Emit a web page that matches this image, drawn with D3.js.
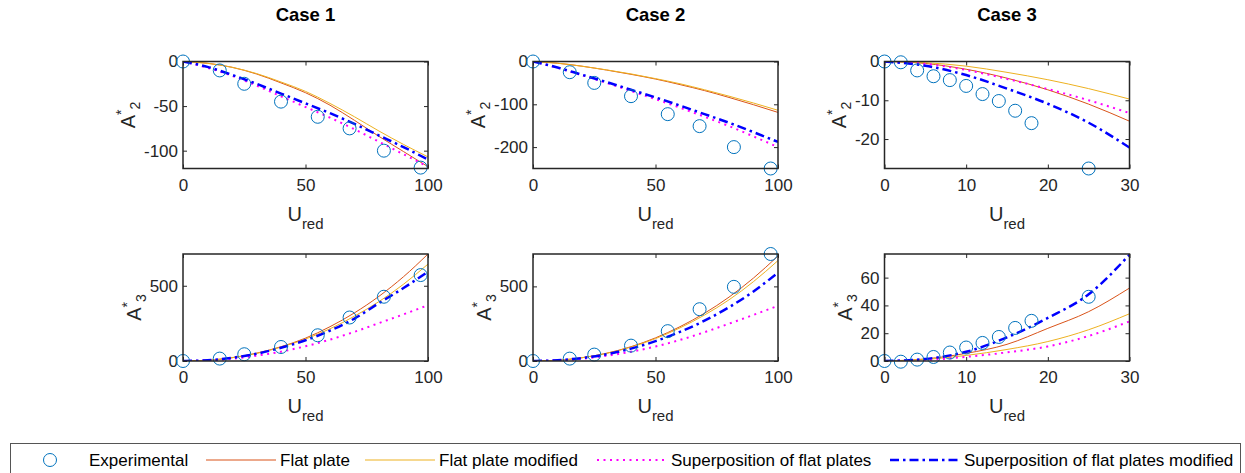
<!DOCTYPE html>
<html lang="en">
<head>
<meta charset="UTF-8">
<title>A2 / A3 vs Ured</title>
<script src="https://d3js.org/d3.v7.min.js"></script>
<style>
  body { margin: 0; background: #fff; }
  svg { display: block; font-family: "Liberation Sans", Arial, sans-serif; }
  .axis text { font-size: 17px; fill: #262626; }
  .axis line { stroke: #262626; stroke-width: 1; }
  .axis path { display: none; }
</style>
</head>
<body>
<div id="chart-container"></div>
<script>
// reduced velocity samples
const uExp = [0, 15, 25, 40, 55, 68, 82, 97];
const uExpCase3 = [0, 2, 4, 6, 8, 10, 12, 14, 16, 18, 25];
const uModel = [0, 10, 20, 30, 40, 50, 60, 70, 80, 90, 100];
const uModelCase3 = [0, 5, 10, 15, 20, 25, 30];

// A2* (top row)
const a2Exp1 = [0, -10, -25, -45, -62, -75, -100, -119];
const a2Flat1 = [0, -2, -6.5, -14, -24, -35, -49, -66, -84, -101, -118];
const a2FlatMod1 = [0, -2, -6.5, -13.5, -23, -33.5, -47, -62, -78, -93, -107];
const a2Sup1 = [0, -7, -16, -27, -39, -51, -63, -76, -90, -104, -118];
const a2SupMod1 = [0, -6, -15, -25, -36, -47, -58, -70, -83, -96, -110];

const a2Exp2 = [0, -25, -50, -81, -123, -151, -200, -250];
const a2Flat2 = [0, -4, -11, -20, -30, -41, -54, -68, -84, -101, -119];
const a2FlatMod2 = [0, -4, -11, -19.5, -29, -40, -52, -66, -81, -97, -114];
const a2Sup2 = [0, -15, -32, -50, -69, -88, -108, -129, -151, -175, -200];
const a2SupMod2 = [0, -14, -31, -48, -66, -84, -103, -123, -143, -165, -188];

const a2Exp3 = [0, -0.2, -2.3, -3.8, -4.8, -6.3, -8.4, -10.2, -12.7, -15.9, -27.6];
const a2Flat3 = [0, -0.5, -2, -4.3, -7.3, -11, -15.4];
const a2FlatMod3 = [0, -0.3, -1.2, -2.8, -4.7, -7, -9.7];
const a2Sup3 = [0, -0.6, -2.2, -4.5, -7.1, -10, -13.3];
const a2SupMod3 = [0, -1.1, -3.5, -7, -10.9, -15.8, -22.2];

// A3* (bottom row)
const a3Exp1 = [0, 16, 45, 93, 171, 289, 427, 571];
const a3Flat1 = [0, 5, 22, 52, 95, 152, 228, 320, 430, 560, 711];
const a3FlatMod1 = [0, 5, 22, 50, 92, 146, 214, 298, 395, 510, 644];
const a3Sup1 = [0, 4, 15, 35, 62, 98, 142, 194, 252, 310, 371];
const a3SupMod1 = [0, 5, 21, 48, 88, 138, 202, 282, 385, 485, 593];

const a3Exp2 = [0, 16, 43, 103, 200, 347, 497, 717];
const a3Flat2 = [0, 5, 22, 52, 96, 155, 230, 320, 428, 556, 704];
const a3FlatMod2 = [0, 5, 22, 51, 93, 150, 222, 308, 410, 532, 673];
const a3Sup2 = [0, 4, 15, 35, 62, 97, 141, 193, 250, 309, 370];
const a3SupMod2 = [0, 5, 20, 45, 83, 133, 195, 270, 360, 466, 592];

const a3Exp3 = [0, -0.5, 1.0, 2.9, 6.1, 9.7, 13.0, 17.3, 23.8, 28.9, 46.2];
const a3Flat3 = [0, 1.5, 5.5, 12, 23.5, 35.5, 52.5];
const a3FlatMod3 = [0, 1.1, 4, 8.3, 14, 22.5, 34];
const a3Sup3 = [0, 0.7, 3, 6.2, 10.5, 18, 28.5];
const a3SupMod3 = [0, 1.5, 6.6, 17, 31, 48, 76.5];

// axis limits and ticks
const caseTitles = ["Case 1", "Case 2", "Case 3"];
const xDomains = [[0, 100], [0, 100], [0, 30]];
const xTicks = [[0, 50, 100], [0, 50, 100], [0, 10, 20, 30]];
const a2Domains = [[-120, 0], [-250, 0], [-27.6, 0]];
const a2Ticks = [[0, -50, -100], [0, -100, -200], [0, -10, -20]];
const a3Domains = [[0, 711], [0, 717], [0, 77]];
const a3Ticks = [[0, 500], [0, 500], [0, 20, 40, 60]];

const seriesNames = ["Experimental", "Flat plate", "Flat plate modified",
  "Superposition of flat plates", "Superposition of flat plates modified"];

const containerWidth = 1245;
const containerHeight = 473;
const panelLefts = [183, 533, 884.5];
const panelWidth = 245;
const rowTops = [61.5, 254];
const panelHeight = 107;

const styles = {
  flat: { color: "#D95319", width: 1, dash: null },
  flatMod: { color: "#EDB120", width: 1, dash: null },
  sup: { color: "#FF00FF", width: 2, dash: "2,4.5" },
  supMod: { color: "#0000FF", width: 2.5, dash: "9,4,2.5,4" }
};
const expColor = "#0072BD";

const svg = d3.select("#chart-container")
  .append("svg")
  .attr("width", containerWidth)
  .attr("height", containerHeight);

svg.append("rect")
  .attr("width", containerWidth)
  .attr("height", containerHeight)
  .attr("fill", "#fff");

// build the six panels from the arrays above
const panels = [];
for (let c = 0; c < 3; c++) {
  const uM = c === 2 ? uModelCase3 : uModel;
  const uE = c === 2 ? uExpCase3 : uExp;
  panels.push({
    col: c, row: 0, sub: "2",
    xDomain: xDomains[c], xTicks: xTicks[c],
    yDomain: a2Domains[c], yTicks: a2Ticks[c],
    uE: uE, uM: uM,
    exp: [a2Exp1, a2Exp2, a2Exp3][c],
    flat: [a2Flat1, a2Flat2, a2Flat3][c],
    flatMod: [a2FlatMod1, a2FlatMod2, a2FlatMod3][c],
    sup: [a2Sup1, a2Sup2, a2Sup3][c],
    supMod: [a2SupMod1, a2SupMod2, a2SupMod3][c]
  });
  panels.push({
    col: c, row: 1, sub: "3",
    xDomain: xDomains[c], xTicks: xTicks[c],
    yDomain: a3Domains[c], yTicks: a3Ticks[c],
    uE: uE, uM: uM,
    exp: [a3Exp1, a3Exp2, a3Exp3][c],
    flat: [a3Flat1, a3Flat2, a3Flat3][c],
    flatMod: [a3FlatMod1, a3FlatMod2, a3FlatMod3][c],
    sup: [a3Sup1, a3Sup2, a3Sup3][c],
    supMod: [a3SupMod1, a3SupMod2, a3SupMod3][c]
  });
}

const fmt = d => String(d);

panels.forEach((p, i) => {
  const left = panelLefts[p.col];
  const top = rowTops[p.row];
  const g = svg.append("g").attr("transform", `translate(${left},${top})`);

  const x = d3.scaleLinear().domain(p.xDomain).range([0, panelWidth]);
  const y = d3.scaleLinear().domain(p.yDomain).range([panelHeight, 0]);

  g.append("clipPath").attr("id", "clip" + i)
    .append("rect").attr("width", panelWidth).attr("height", panelHeight);

  // axes with inward ticks, mirrored on top and right
  g.append("g").attr("class", "axis")
    .attr("transform", `translate(0,${panelHeight})`)
    .call(d3.axisBottom(x).tickValues(p.xTicks).tickFormat(fmt)
      .tickSizeInner(-4).tickSizeOuter(0).tickPadding(10));
  g.append("g").attr("class", "axis")
    .call(d3.axisTop(x).tickValues(p.xTicks).tickFormat("")
      .tickSizeInner(-4).tickSizeOuter(0));
  const yAxis = g.append("g").attr("class", "axis")
    .call(d3.axisLeft(y).tickValues(p.yTicks).tickFormat(fmt)
      .tickSizeInner(-4).tickSizeOuter(0).tickPadding(5));
  g.append("g").attr("class", "axis")
    .attr("transform", `translate(${panelWidth},0)`)
    .call(d3.axisRight(y).tickValues(p.yTicks).tickFormat("")
      .tickSizeInner(-4).tickSizeOuter(0));

  // model curves
  const plot = g.append("g").attr("clip-path", `url(#clip${i})`);
  ["flat", "flatMod", "sup", "supMod"].forEach(key => {
    const st = styles[key];
    const pts = p.uM.map((u, k) => [u, p[key][k]]);
    plot.append("path")
      .datum(pts)
      .attr("fill", "none")
      .attr("stroke", st.color)
      .attr("stroke-width", st.width)
      .attr("stroke-dasharray", st.dash)
      .attr("stroke-linecap", key === "sup" ? "butt" : "butt")
      .attr("d", d3.line()
        .x(d => x(d[0]))
        .y(d => y(d[1]))
        .curve(d3.curveMonotoneX));
  });

  // experimental points
  g.selectAll(".point")
    .data(p.uE.map((u, k) => [u, p.exp[k]]))
    .enter()
    .append("circle")
    .attr("class", "point")
    .attr("cx", d => x(d[0]))
    .attr("cy", d => y(d[1]))
    .attr("r", 6.5)
    .style("fill", "none")
    .style("stroke", expColor)
    .style("stroke-width", 1);

  // box
  g.append("rect")
    .attr("width", panelWidth)
    .attr("height", panelHeight)
    .attr("fill", "none")
    .attr("stroke", "#262626")
    .attr("stroke-width", 1.5);

  // x label U_red
  const xl = g.append("text")
    .attr("x", panelWidth / 2)
    .attr("y", panelHeight + 52)
    .attr("text-anchor", "middle")
    .attr("fill", "#262626");
  xl.append("tspan").style("font-size", "20px").text("U");
  xl.append("tspan").style("font-size", "15px").attr("dy", 8).text("red");

  // y label A*_n, placed left of the tick labels
  const bb = yAxis.node().getBBox();
  const lx = bb.x - 9;
  const yl = g.append("text")
    .attr("transform", `translate(${lx},${panelHeight / 2}) rotate(-90)`)
    .attr("text-anchor", "middle")
    .attr("fill", "#262626");
  yl.append("tspan").style("font-size", "20px").text("A");
  yl.append("tspan").style("font-size", "14px").attr("dy", -9).text("*");
  yl.append("tspan").style("font-size", "14px").attr("dy", 14).text(p.sub);

  if (p.row === 0) {
    g.append("text")
      .attr("x", panelWidth / 2)
      .attr("y", 21 - top)
      .attr("text-anchor", "middle")
      .style("font-size", "18.5px")
      .style("font-weight", "bold")
      .attr("fill", "#000")
      .text(caseTitles[p.col]);
  }
});

// legend
const legendItemX = [15, 206, 365, 597, 890];
const legendY = 460;
const lg = svg.append("g");
lg.append("rect")
  .attr("x", 10.5).attr("y", 443.5)
  .attr("width", 1230).attr("height", 40)
  .attr("fill", "#fff")
  .attr("stroke", "#555")
  .attr("stroke-width", 1);

const legendKeys = ["exp", "flat", "flatMod", "sup", "supMod"];
legendKeys.forEach((key, i) => {
  const x0 = legendItemX[i];
  if (key === "exp") {
    lg.append("circle")
      .attr("cx", x0 + 35).attr("cy", legendY).attr("r", 6.5)
      .style("fill", "none").style("stroke", expColor).style("stroke-width", 1);
  } else {
    const st = styles[key];
    lg.append("line")
      .attr("x1", x0).attr("x2", x0 + 70)
      .attr("y1", legendY).attr("y2", legendY)
      .attr("stroke", st.color)
      .attr("stroke-width", st.width)
      .attr("stroke-dasharray", st.dash);
  }
  lg.append("text")
    .attr("x", x0 + 74)
    .attr("y", legendY + 6)
    .style("font-size", "17px")
    .attr("fill", "#000")
    .text(seriesNames[i]);
});
</script>
</body>
</html>
